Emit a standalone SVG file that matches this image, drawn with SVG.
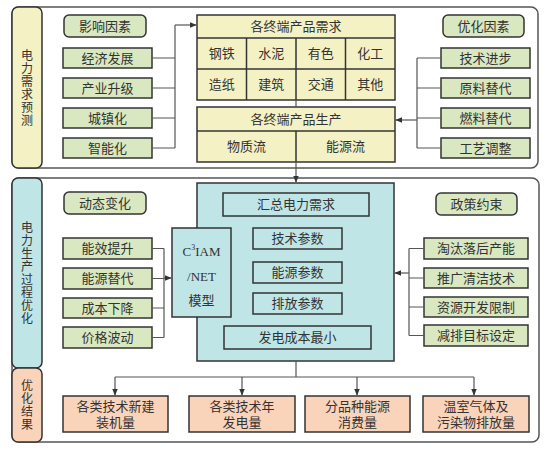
<svg xmlns="http://www.w3.org/2000/svg" width="547" height="452" viewBox="0 0 547 452">
<defs>
<style>
text{font-family:"Liberation Serif","Noto Sans CJK SC",serif;font-size:13px;fill:#333;text-anchor:middle;dominant-baseline:central}
.v{font-size:12px}
.frame{fill:#fff;stroke:#555;stroke-width:1.5}
.g{fill:#d9e8c0;stroke:#333;stroke-width:1.5}
.y{fill:#f4f1c4;stroke:#333;stroke-width:1.5}
.c{fill:#c0e5e7;stroke:#333;stroke-width:1.5}
.p{fill:#fad4ba;stroke:#333;stroke-width:1.5}
.ln{fill:none;stroke:#555;stroke-width:1.2}
.tl{stroke:#333;stroke-width:1.5}
</style>
<marker id="ah" viewBox="0 0 10 10" refX="9" refY="5" markerWidth="7" markerHeight="7" orient="auto" markerUnits="userSpaceOnUse"><path d="M0,1 L10,5 L0,9 Z" fill="#333"/></marker>
</defs>

<rect class="frame" x="12" y="7" width="526" height="161" rx="7"/>
<rect class="frame" x="12" y="178" width="527" height="264" rx="7"/>

<g id="label-demand"><rect class="y" x="12" y="7" width="30" height="161" rx="6"/>
<text class="v" x="27" y="56">电</text><text class="v" x="27" y="69">力</text><text class="v" x="27" y="82">需</text><text class="v" x="27" y="95">求</text><text class="v" x="27" y="108">预</text><text class="v" x="27" y="121">测</text></g>
<g id="label-process"><rect class="c" x="12" y="178" width="30" height="190" rx="6"/>
<text class="v" x="27" y="228">电</text><text class="v" x="27" y="241">力</text><text class="v" x="27" y="254">生</text><text class="v" x="27" y="267">产</text><text class="v" x="27" y="280">过</text><text class="v" x="27" y="293">程</text><text class="v" x="27" y="306">优</text><text class="v" x="27" y="319">化</text></g>
<g id="label-result"><rect class="p" x="12" y="368" width="30" height="74" rx="6"/>
<text class="v" x="27" y="386">优</text><text class="v" x="27" y="399">化</text><text class="v" x="27" y="412">结</text><text class="v" x="27" y="425">果</text></g>

<g id="infl"><rect class="g" x="64" y="15" width="82" height="22" rx="5"/><text x="105" y="26">影响因素</text></g>
<g id="n1"><rect class="g" x="63" y="48" width="89" height="20"/><text x="107.5" y="58">经济发展</text></g>
<g id="n2"><rect class="g" x="63" y="78" width="89" height="20"/><text x="107.5" y="88">产业升级</text></g>
<g id="n3"><rect class="g" x="63" y="108" width="89" height="20"/><text x="107.5" y="118">城镇化</text></g>
<g id="n4"><rect class="g" x="63" y="138" width="89" height="20"/><text x="107.5" y="148">智能化</text></g>

<g id="opt"><rect class="g" x="443" y="15" width="81" height="22" rx="5"/><text x="483.5" y="26">优化因素</text></g>
<g id="o1"><rect class="g" x="441" y="48" width="89" height="20"/><text x="485.5" y="58">技术进步</text></g>
<g id="o2"><rect class="g" x="441" y="78" width="89" height="20"/><text x="485.5" y="88">原料替代</text></g>
<g id="o3"><rect class="g" x="441" y="108" width="89" height="20"/><text x="485.5" y="118">燃料替代</text></g>
<g id="o4"><rect class="g" x="441" y="138" width="89" height="20"/><text x="485.5" y="148">工艺调整</text></g>

<g id="demand-table">
<rect class="y" x="197" y="15" width="198" height="85"/>
<line class="tl" x1="197" y1="38" x2="395" y2="38"/>
<line class="tl" x1="197" y1="69" x2="395" y2="69"/>
<line class="tl" x1="246.5" y1="38" x2="246.5" y2="100"/>
<line class="tl" x1="296" y1="38" x2="296" y2="100"/>
<line class="tl" x1="345.5" y1="38" x2="345.5" y2="100"/>
<text x="296" y="26.5">各终端产品需求</text>
<text x="221.75" y="53.5">钢铁</text><text x="271.25" y="53.5">水泥</text><text x="320.75" y="53.5">有色</text><text x="370.25" y="53.5">化工</text>
<text x="221.75" y="84.5">造纸</text><text x="271.25" y="84.5">建筑</text><text x="320.75" y="84.5">交通</text><text x="370.25" y="84.5">其他</text>
</g>
<g id="production-table">
<rect class="y" x="197" y="107" width="198" height="55"/>
<line class="tl" x1="197" y1="131" x2="395" y2="131"/>
<line class="tl" x1="296" y1="131" x2="296" y2="162"/>
<text x="296" y="119">各终端产品生产</text>
<text x="246.5" y="146.5">物质流</text><text x="345.5" y="146.5">能源流</text>
</g>

<g id="dyn"><rect class="g" x="64" y="192" width="82" height="22" rx="5"/><text x="105" y="203">动态变化</text></g>
<g id="d1"><rect class="g" x="63" y="238" width="89" height="21"/><text x="107.5" y="248.5">能效提升</text></g>
<g id="d2"><rect class="g" x="63" y="268" width="89" height="21"/><text x="107.5" y="278.5">能源替代</text></g>
<g id="d3"><rect class="g" x="63" y="298" width="89" height="20"/><text x="107.5" y="308">成本下降</text></g>
<g id="d4"><rect class="g" x="63" y="327" width="89" height="21"/><text x="107.5" y="337.5">价格波动</text></g>

<g id="policy"><rect class="g" x="436" y="193" width="81" height="22" rx="5"/><text x="476.5" y="204">政策约束</text></g>
<g id="p1"><rect class="g" x="424" y="238" width="104" height="21"/><text x="476" y="248.5">淘汰落后产能</text></g>
<g id="p2"><rect class="g" x="424" y="268" width="104" height="20"/><text x="476" y="278">推广清洁技术</text></g>
<g id="p3"><rect class="g" x="424" y="297" width="104" height="20"/><text x="476" y="307">资源开发限制</text></g>
<g id="p4"><rect class="g" x="424" y="325" width="104" height="21"/><text x="476" y="335.5">减排目标设定</text></g>

<g id="core">
<rect class="c" x="197" y="183" width="197" height="178"/>
<rect class="c" x="223" y="193" width="146" height="23"/><text x="296" y="204.5">汇总电力需求</text>
<rect class="c" x="253" y="228" width="89" height="21"/><text x="297.5" y="238.5">技术参数</text>
<rect class="c" x="253" y="262" width="89" height="21"/><text x="297.5" y="272.5">能源参数</text>
<rect class="c" x="253" y="293" width="89" height="21"/><text x="297.5" y="303.5">排放参数</text>
<rect class="c" x="224" y="326" width="147" height="23"/><text x="297.5" y="337.5">发电成本最小</text>
</g>
<g id="model"><rect class="c" x="172" y="228" width="59" height="89"/>
<text x="201.5" y="251">C<tspan font-size="8" dy="-4">3</tspan><tspan dy="4">IAM</tspan></text>
<text x="201.5" y="276">/NET</text><text x="201.5" y="300">模型</text></g>

<g id="r1"><rect class="p" x="63" y="396" width="105" height="36"/><text x="115.5" y="406.5">各类技术新建</text><text x="115.5" y="422.5">装机量</text></g>
<g id="r2"><rect class="p" x="189" y="396" width="106" height="36"/><text x="242" y="406.5">各类技术年</text><text x="242" y="422.5">发电量</text></g>
<g id="r3"><rect class="p" x="305" y="396" width="105" height="36"/><text x="357.5" y="406.5">分品种能源</text><text x="357.5" y="422.5">消费量</text></g>
<g id="r4"><rect class="p" x="423" y="396" width="106" height="36"/><text x="476" y="406.5">温室气体及</text><text x="476" y="422.5">污染物排放量</text></g>

<g id="connectors">
<path class="ln" d="M152,58H175M152,88H175M152,118H175M152,148H175M175,148V25"/>
<path class="ln" d="M175,25H196" marker-end="url(#ah)"/>
<path class="ln" d="M441,58H417M441,88H417M441,118H417M441,148H417M417,58V148"/>
<path class="ln" d="M417,120H396" marker-end="url(#ah)"/>
<path class="ln" d="M296,100V107"/>
<path class="ln" d="M296,162V182" marker-end="url(#ah)"/>
<path class="ln" d="M152,248.5H164M152,278.5H164M152,308H164M152,337.5H164M164,248.5V337.5"/>
<path class="ln" d="M164,278H171" marker-end="url(#ah)"/>
<path class="ln" d="M424,248.5H409M424,278H409M424,307H409M424,335.5H409M409,248.5V335.5"/>
<path class="ln" d="M409,273H395" marker-end="url(#ah)"/>
<path class="ln" d="M296,361V377M115,377H474"/>
<path class="ln" d="M115,377V395" marker-end="url(#ah)"/>
<path class="ln" d="M242,377V395" marker-end="url(#ah)"/>
<path class="ln" d="M357,377V395" marker-end="url(#ah)"/>
<path class="ln" d="M474,377V395" marker-end="url(#ah)"/>
</g>
</svg>
